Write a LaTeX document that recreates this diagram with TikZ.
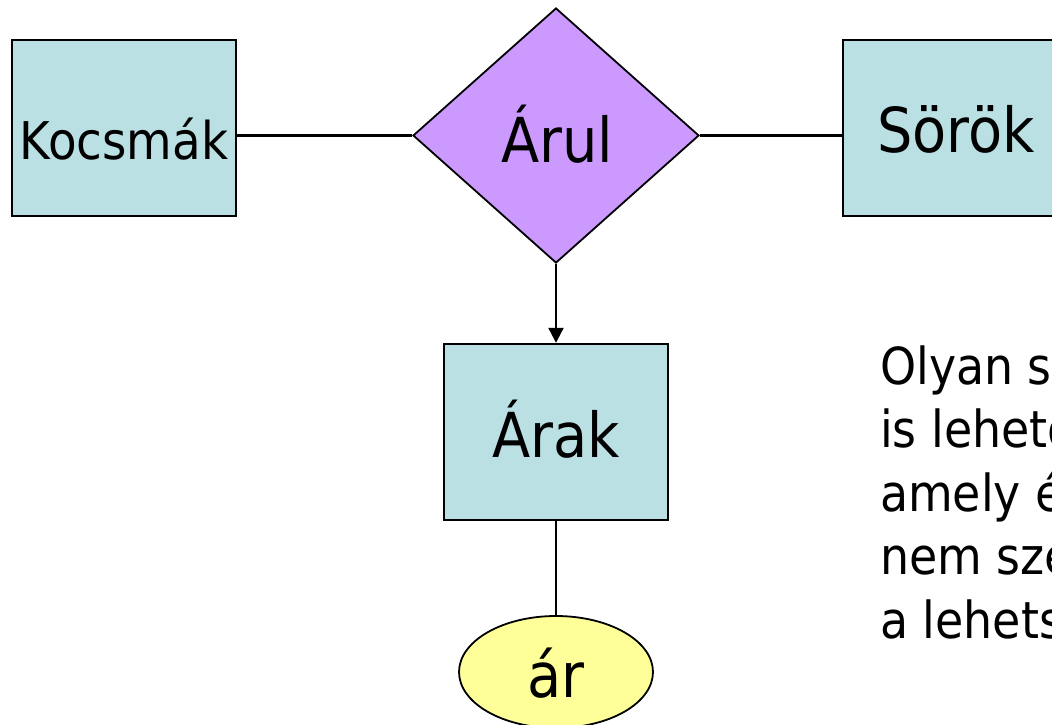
\documentclass[tikz,border=0pt]{standalone}
\usepackage{fontspec}
\setmainfont{DejaVu Sans Condensed}
\usetikzlibrary{shapes.geometric,arrows.meta}
\definecolor{entfill}{HTML}{BBE0E3}
\definecolor{relfill}{HTML}{CC99FF}
\definecolor{attfill}{HTML}{FFFF99}
\begin{document}
\begin{tikzpicture}[x=1pt,y=-1pt,
  entity/.style={draw, line width=2.4pt, fill=entfill, rectangle, minimum width=224pt, minimum height=176pt, inner sep=0pt},
  relation/.style={draw, line width=1.8pt, fill=relfill, diamond, minimum width=286pt, minimum height=255pt, inner sep=0pt},
  attribute/.style={draw, line width=1.8pt, fill=attfill, ellipse, minimum width=194pt, minimum height=112pt, inner sep=0pt},
  lbl/.style={anchor=base, inner sep=0pt, font=\fontsize{62}{74}\selectfont},
  conn/.style={line width=2.2pt}]
\useasboundingbox (0,0) rectangle (1052,725);
\clip (0,0) rectangle (1052,725);
\fill[white] (0,0) rectangle (1052,725);
% shapes
\node[entity] (kocs) at (124,128) {};
\node[relation] (arul) at (556,135.5) {};
\node[entity] (sorok) at (955,128) {};
\node[entity] (arak) at (556,432) {};
\node[attribute] (ar) at (556,672) {};
% labels
\node[lbl, font=\fontsize{52}{62}\selectfont] (kocsT) at (124,159) {Kocsmák};
\node[lbl] (arulT) at (557,162) {Árul};
\node[lbl] (sorokT) at (956,152) {Sörök};
\node[lbl] (arakT) at (556,457) {Árak};
\node[lbl] (arT) at (556,697) {ár};
% connectors
\draw[conn] (arul.west) -- (kocs.east |- arul.west);
\draw[conn] (arul.east) -- (sorok.west |- arul.east);
\draw[conn, -{Triangle[length=15pt,width=15pt]}] (arul.south) -- (arak.north);
\draw[conn] (arak.south) -- (ar.north);
% note
\node[anchor=base west, align=left, inner sep=0pt, font=\fontsize{51}{63.5}\selectfont] (note) at (880,638)
  {Olyan s\\is lehető\\amely é\\nem sze\\a lehets};
\end{tikzpicture}
\end{document}
